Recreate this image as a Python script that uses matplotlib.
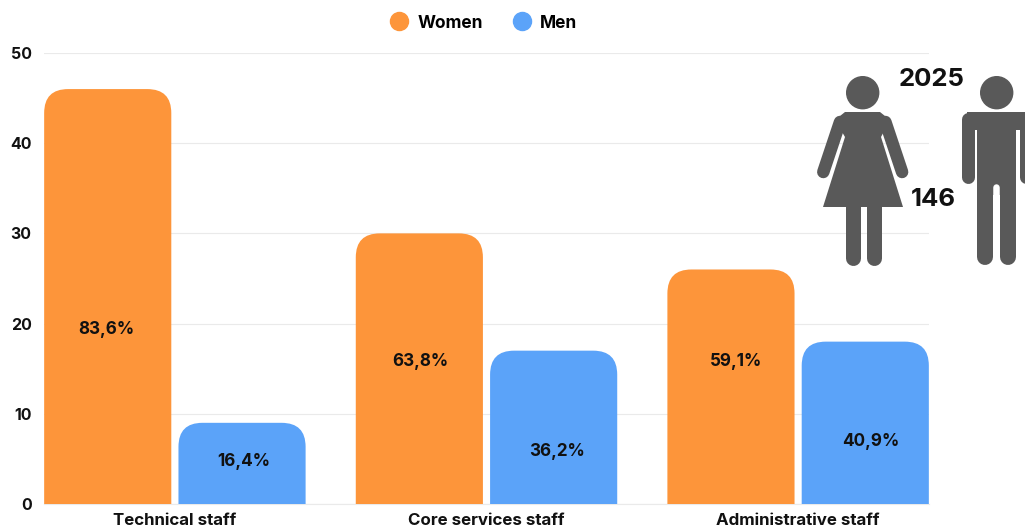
import matplotlib as mpl
import matplotlib.pyplot as plt
import numpy as np
from matplotlib.lines import Line2D
from matplotlib.patches import Circle, PathPatch, Polygon, Rectangle
from matplotlib.path import Path

mpl.use("Agg")
mpl.rcParams.update({"font.family": ["Inter", "DejaVu Sans"], "font.weight": "bold"})

categories = ["Technical staff", "Core services staff", "Administrative staff"]
women = [46, 30, 26]
men = [9, 17, 18]
women_labels = ["83,6%", "63,8%", "59,1%"]
men_labels = ["16,4%", "36,2%", "40,9%"]
y_ticks = [0, 10, 20, 30, 40, 50]

ORANGE = "#FD953A"
BLUE = "#5BA3F9"
ICON = "#595959"
W, H = 1025, 526


def rounded_top(ax, bar, radius_px, color):
    """Swap a bar for the same bar with rounded top corners."""
    x0, x1 = bar.get_x(), bar.get_x() + bar.get_width()
    top = bar.get_height()
    p0 = ax.transData.transform((x0, 0))
    p1 = ax.transData.transform((x1, top))
    rx = radius_px * (x1 - x0) / (p1[0] - p0[0])
    ry = radius_px * top / (p1[1] - p0[1])
    verts = [
        (x0, 0),
        (x0, top - ry),
        (x0, top),
        (x0 + rx, top),
        (x1 - rx, top),
        (x1, top),
        (x1, top - ry),
        (x1, 0),
        (x0, 0),
    ]
    codes = [
        Path.MOVETO,
        Path.LINETO,
        Path.CURVE3,
        Path.CURVE3,
        Path.LINETO,
        Path.CURVE3,
        Path.CURVE3,
        Path.LINETO,
        Path.CLOSEPOLY,
    ]
    bar.set_visible(False)
    ax.add_patch(PathPatch(Path(verts, codes), facecolor=color, edgecolor="none", zorder=3))


def limb(ov, x0, y0, x1, y1, width_px, color=ICON):
    # linewidth is in points, figure is at 100 dpi
    ov.plot([x0, x1], [y0, y1], color=color, lw=width_px * 0.72, solid_capstyle="round", zorder=5)


def draw_woman(ov):
    ov.add_patch(Circle((862.7, 92.7), 16, color=ICON, zorder=5))
    ov.add_patch(
        Polygon(
            [(845, 112), (880, 112), (890, 120), (881, 137), (903, 207), (823, 207), (845, 137), (835, 120)],
            closed=True,
            color=ICON,
            lw=0,
            zorder=5,
        )
    )
    limb(ov, 840, 122, 823.3, 172, 12.5)
    limb(ov, 885.4, 122, 902.1, 172, 12.5)
    limb(ov, 852.5, 200, 852.5, 258, 15)
    limb(ov, 873.5, 200, 873.5, 258, 15)


def draw_man(ov):
    ov.add_patch(Circle((996.7, 92.7), 16, color=ICON, zorder=5))
    limb(ov, 967.5, 119, 967.5, 177, 13)
    limb(ov, 1026, 119, 1026, 177, 13)
    ov.add_patch(Rectangle((967, 112), 60, 18, color=ICON, lw=0, zorder=5))
    ov.add_patch(Rectangle((977, 125), 39, 70, color=ICON, lw=0, zorder=5))
    limb(ov, 985, 190, 985, 257, 16)
    limb(ov, 1007.5, 190, 1007.5, 257, 16)
    ov.plot([996.4, 996.4], [187, 270], color="white", lw=6.5 * 0.72, solid_capstyle="round", zorder=6)


def main():
    fig = plt.figure(figsize=(W / 100, H / 100), dpi=100)
    ax = fig.add_axes([44 / W, (H - 504) / H, (929 - 44) / W, (504 - 53) / H])

    x = np.arange(len(categories))
    width = 0.408
    offset = 0.2155
    bars_w = ax.bar(x - offset, women, width, color=ORANGE)
    bars_m = ax.bar(x + offset, men, width, color=BLUE)

    ax.set_xlim(-0.42, 2.42)
    ax.set_ylim(0, 50)
    ax.set_yticks(y_ticks)
    ax.set_xticks(x, categories)
    ax.grid(axis="y", color="#EAEAEA", lw=0.8, zorder=0)
    ax.set_axisbelow(True)
    ax.tick_params(axis="y", length=0, pad=9, labelsize=11.5, labelcolor="#111111")
    ax.tick_params(axis="x", length=0, pad=6.5, labelsize=12.2, labelcolor="#111111")
    for s in ["top", "right", "left"]:
        ax.spines[s].set_visible(False)
    ax.spines["bottom"].set_color("#EAEAEA")

    for bar in bars_w:
        rounded_top(ax, bar, 24, ORANGE)
    for bar in bars_m:
        rounded_top(ax, bar, 24, BLUE)

    handles = [
        Line2D([], [], ls="", marker="o", ms=13, color=ORANGE, label="Women"),
        Line2D([], [], ls="", marker="o", ms=13, color=BLUE, label="Men"),
    ]
    fig.legend(
        handles=handles,
        loc="center",
        bbox_to_anchor=(482 / W, 1 - 23 / H),
        ncol=2,
        frameon=False,
        fontsize=12.5,
        handlelength=1.4,
        handletextpad=0.37,
        columnspacing=1.55,
    )

    # overlay in image pixels for the free-floating labels and the figures
    ov = fig.add_axes([0, 0, 1, 1])
    ov.set_xlim(0, W)
    ov.set_ylim(H, 0)
    ov.axis("off")

    label_x = [106, 244, 420, 557, 736, 871]
    label_y = [329, 462, 362, 451, 362, 442]
    labels = [women_labels[0], men_labels[0], women_labels[1], men_labels[1], women_labels[2], men_labels[2]]
    for lx, ly, lab in zip(label_x, label_y, labels, strict=True):
        ov.text(lx, ly, lab, ha="center", va="center", fontsize=12.3, color="#111111", zorder=6)

    draw_woman(ov)
    draw_man(ov)
    ov.text(932, 79, "2025", ha="center", va="center", fontsize=18.5, color="#111111", zorder=6)
    ov.text(933, 200, "146", ha="center", va="center", fontsize=18.5, color="#111111", zorder=6)

    fig.savefig("out.png", dpi=100)


if __name__ == "__main__":
    main()
